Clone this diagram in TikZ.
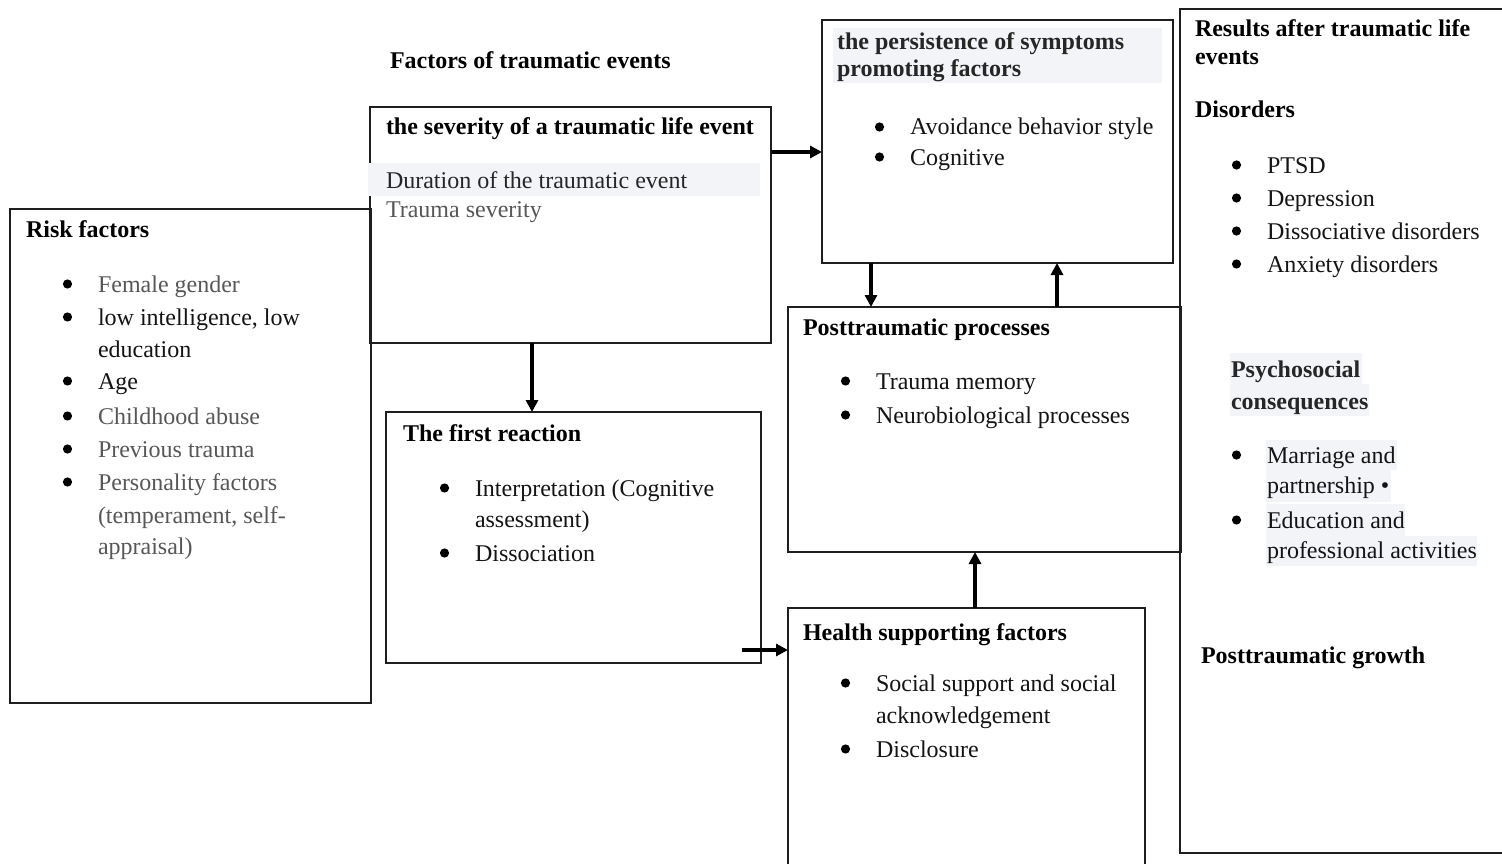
\documentclass[tikz,border=0pt]{standalone}
\usepackage{fontspec}
\setmainfont{Liberation Serif}
\usetikzlibrary{arrows.meta,calc}

\definecolor{frame}{HTML}{1E1E1E}
\definecolor{graytext}{HTML}{575757}
\definecolor{darktext}{HTML}{262626}
\definecolor{hl}{HTML}{F2F4F7}

\begin{document}
\begin{tikzpicture}[x=1pt,y=-1pt,
  box/.style={draw=frame, line width=2pt, anchor=north west, inner sep=0pt, outer sep=0pt},
  txt/.style={anchor=base west, inner sep=0pt, outer sep=0pt, text=black!92, font=\fontsize{24}{33}\selectfont},
  ttl/.style={txt, text=black, font=\fontsize{24}{33}\selectfont\bfseries},
  gry/.style={text=graytext},
  drk/.style={text=darktext},
  arr/.style={draw=black, line width=3.2pt, -{Triangle[length=12pt,width=12pt]}},
  hlbar/.style={fill=hl, draw=none}]

\useasboundingbox (0,0) rectangle (1502,864);
\clip (0,0) rectangle (1502,864);
\fill[white] (0,0) rectangle (1502,864);

% frames
\node[box, minimum width=361pt, minimum height=494pt] (risk)   at (10,209)  {};
\node[box, minimum width=401pt, minimum height=236pt] (sev)    at (370,107) {};
\node[box, minimum width=375pt, minimum height=251pt] (first)  at (386,412) {};
\node[box, minimum width=351pt, minimum height=243pt] (pers)   at (822,20)  {};
\node[box, minimum width=393pt, minimum height=245pt] (post)   at (788,307) {};
\node[box, minimum width=357pt, minimum height=290pt] (health) at (788,608) {};
\node[box, minimum width=350pt, minimum height=844pt] (res)    at (1180,9)  {};

% shaded text backgrounds
\fill[hlbar] (368,163) rectangle (760,196);
\fill[hlbar] (833,28) rectangle (1162,83);
\fill[hlbar] (1230,353) rectangle (1362,384);
\fill[hlbar] (1230,384) rectangle (1369,416);
\fill[hlbar] (1266,440) rectangle (1397,470);
\fill[hlbar] (1266,470) rectangle (1391,502);
\fill[hlbar] (1266,504) rectangle (1405,536);
\fill[hlbar] (1266,536) rectangle (1477,566);

% connectors
\draw[arr] (sev.east |- 0,152) -- (pers.west |- 0,152);
\draw[arr] (sev.south -| 532,0) -- (first.north -| 532,0);
\draw[arr] (pers.south -| 871,0) -- (post.north -| 871,0);
\draw[arr] (post.north -| 1057,0) -- (pers.south -| 1057,0);
\draw[arr] ($(first.east |- 0,650)+(-19,0)$) -- (health.west |- 0,650);
\draw[arr] (health.north -| 975,0) -- (post.south -| 975,0);

% heading
\node[ttl] (factors) at (390,69) {Factors of traumatic events};

% severity of the event
\node[ttl] (sevT) at (386,135) {the severity of a traumatic life event};
\node[txt, drk] (sev1) at (386,189) {Duration of the traumatic event};
\node[txt, gry] (sev2) at (386,217) {Trauma severity};

% risk factors
\node[ttl] (riskT) at (26,237) {Risk factors};
\node[txt, gry] (risk1) at (98,292) {Female gender};
\node[txt] (risk2) at (98,325) {low intelligence, low};
\node[txt] (risk3) at (98,357) {education};
\node[txt] (risk4) at (98,389) {Age};
\node[txt, gry] (risk5) at (98,424) {Childhood abuse};
\node[txt, gry] (risk6) at (98,457) {Previous trauma};
\node[txt, gry] (risk7) at (98,490) {Personality factors};
\node[txt, gry] (risk8) at (98,523) {(temperament, self-};
\node[txt, gry] (risk9) at (98,554) {appraisal)};

% first reaction
\node[ttl] (firT) at (403,441) {The first reaction};
\node[txt] (fir1) at (475,496) {Interpretation (Cognitive};
\node[txt] (fir2) at (475,527) {assessment)};
\node[txt] (fir3) at (475,561) {Dissociation};

% persistence of symptoms
\node[ttl, drk] (persT1) at (837,50) {the persistence of symptoms};
\node[ttl, drk] (persT2) at (837,77) {promoting factors};
\node[txt] (pers1) at (910,135) {Avoidance behavior style};
\node[txt] (pers2) at (910,165) {Cognitive};

% posttraumatic processes
\node[ttl] (postT) at (803,335) {Posttraumatic processes};
\node[txt] (post1) at (876,389) {Trauma memory};
\node[txt] (post2) at (876,423) {Neurobiological processes};

% health supporting factors
\node[ttl] (hlT) at (803,640) {Health supporting factors};
\node[txt] (hl1) at (876,691) {Social support and social};
\node[txt] (hl2) at (876,723) {acknowledgement};
\node[txt] (hl3) at (876,757) {Disclosure};

% results
\node[ttl] (resT1) at (1195,37) {Results after traumatic life};
\node[ttl] (resT2) at (1195,65) {events};
\node[ttl] (resD) at (1195,118) {Disorders};
\node[txt] (res1) at (1267,173) {PTSD};
\node[txt] (res2) at (1267,206) {Depression};
\node[txt] (res3) at (1267,239) {Dissociative disorders};
\node[txt] (res4) at (1267,272) {Anxiety disorders};
\node[ttl, drk] (resP1) at (1231,377) {Psychosocial};
\node[ttl, drk] (resP2) at (1231,409) {consequences};
\node[txt] (res5) at (1267,463) {Marriage and};
\node[txt] (res6) at (1267,493) {partnership \textbullet};
\node[txt] (res7) at (1267,528) {Education and};
\node[txt] (res8) at (1267,558) {professional activities};
\node[ttl] (resG) at (1201,663) {Posttraumatic growth};

% list bullets, hung to the left of each item's first line
\foreach \n in {risk1,risk2,risk4,risk5,risk6,risk7,fir1,fir3,pers1,pers2,
                post1,post2,hl1,hl3,res1,res2,res3,res4,res5,res7}
  \fill[black] ($(\n.base west)+(-30.5,-8)$) circle (4.6pt);

\end{tikzpicture}
\end{document}
